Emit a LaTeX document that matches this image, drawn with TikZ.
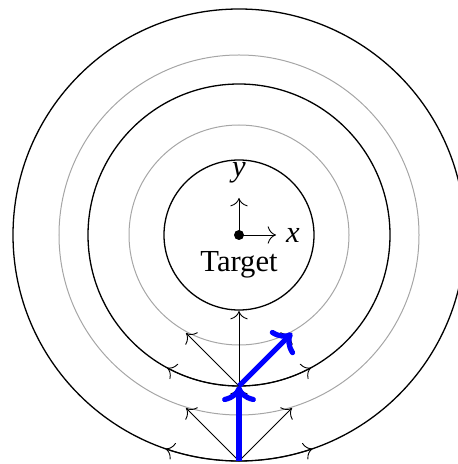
\documentclass[tikz,border=0pt]{standalone}
\usepackage{fontspec}
\usetikzlibrary{arrows.meta}
\setmainfont{Liberation Serif}
\begin{document}
\begin{tikzpicture}[x=0.5pt,y=0.5pt,
  ring/.style={line width=0.65pt},
  faint/.style={line width=0.5pt, draw=black!35},
  move/.style={-{To[scale=1.6]}, line width=0.45pt},
  chosen/.style={-{To[scale=1.1]}, line width=2.6pt, draw=blue},
  lbl/.style={font=\fontsize{15.3}{18}\selectfont, inner sep=0pt}]
\useasboundingbox (-239,-229) rectangle (218,235);
\coordinate (C) at (0,0);
% rings
\draw[ring] (C) circle[radius=75];
\draw[faint] (C) circle[radius=110];
\draw[ring] (C) circle[radius=151];
\draw[faint] (C) circle[radius=180];
\draw[ring] (C) circle[radius=226];
% target frame
\fill (C) circle[radius=5];
\coordinate (Xe) at (37,0);
\coordinate (Ye) at (0,37);
\draw[move] (C) -- (Xe);
\draw[move] (C) -- (Ye);
\node[lbl] (xl) at (54,0) {\textit{x}};
\node[lbl] (yl) at (0,62) {\textit{y}};
\node[lbl] (tg) at (0,-30) {Target};
% lower state
\coordinate (P0) at (0,-226);
\coordinate (P0u) at (0,-151);
\coordinate (P0l) at (-53,-173);
\coordinate (P0r) at (53,-173);
\draw[move] (P0) -- (P0u);
\draw[move] (P0) -- (P0l);
\draw[move] (P0) -- (P0r);
\draw[move] (P0) arc[start angle=-90, end angle=-109, radius=226];
\draw[move] (P0) arc[start angle=-90, end angle=-71, radius=226];
% upper state
\coordinate (P1) at (0,-151);
\coordinate (P1u) at (0,-76);
\coordinate (P1l) at (-53,-98);
\coordinate (P1r) at (53,-98);
\draw[move] (P1) -- (P1u);
\draw[move] (P1) -- (P1l);
\draw[move] (P1) -- (P1r);
\draw[move] (P1) arc[start angle=-90, end angle=-118.5, radius=151];
\draw[move] (P1) arc[start angle=-90, end angle=-61.5, radius=151];
% chosen path
\draw[chosen] (P0) -- (P1);
\draw[chosen] (P1) -- (P1r);
\end{tikzpicture}
\end{document}
